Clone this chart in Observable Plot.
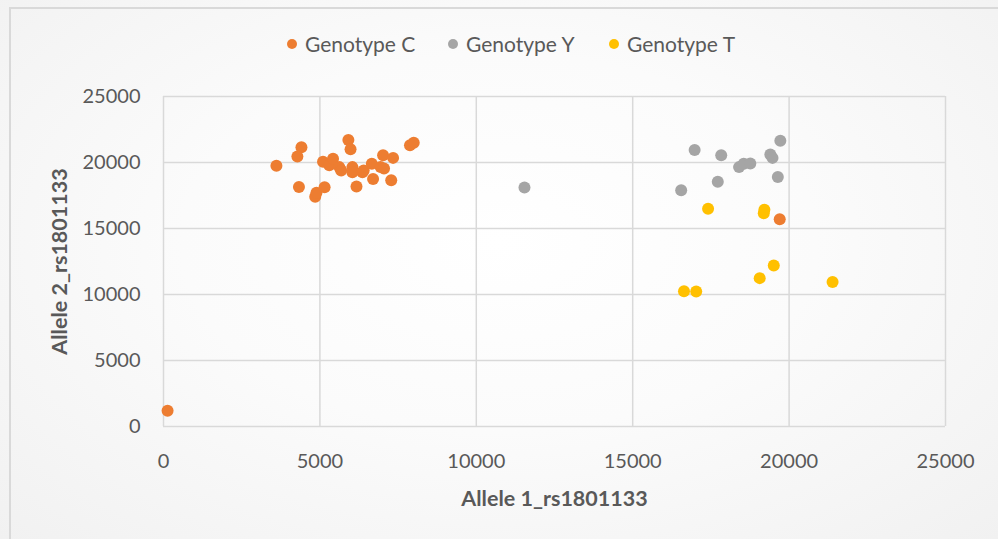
<!DOCTYPE html>
<html>
<head>
<meta charset="utf-8">
<script src="https://cdn.jsdelivr.net/npm/d3@7"></script>
<script src="https://cdn.jsdelivr.net/npm/@observablehq/plot@0.6"></script>
<style>
  html, body { margin: 0; padding: 0; background: #fff; }
  #chart {
    position: relative; width: 998px; height: 539px; overflow: hidden;
    background: radial-gradient(ellipse at 50% 45%, #ffffff 0%, #fbfbfb 45%, #f1f1f1 100%);
    font-family: Lato, "Open Sans", sans-serif;
  }
  #frame {
    position: absolute; left: 9px; top: 7px; width: 1000px; height: 560px;
    border: 2px solid #d9d9d9; box-sizing: border-box;
  }
  #legend { position: absolute; left: 0; top: 0; width: 998px; height: 90px; font-size: 21px; color: #595959; }
  .item { position: absolute; top: 31px; display: flex; align-items: center; gap: 8px; white-space: nowrap; }
  .sw { width: 10px; height: 10px; border-radius: 50%; display: inline-block; }
  #plot { position: absolute; left: 0; top: 0; }
</style>
</head>
<body>
<div id="chart">
  <div id="frame"></div>
  <div id="plot"></div>
  <div id="legend"></div>
</div>
<script>
const seriesNames = ["Genotype C", "Genotype Y", "Genotype T"];
const seriesColors = ["#ED7D31", "#A5A5A5", "#FFC000"];

const genotypeC_x = [130, 3610, 4410, 4280, 4330, 4850, 4890, 5150, 5100, 5300, 5420, 5620, 5680, 5910, 5980, 6040, 6040, 6170, 6360, 6400, 6660, 6700, 6940, 7020, 7050, 7340, 7280, 7880, 8000, 19700];
const genotypeC_y = [1200, 19750, 21150, 20450, 18150, 17400, 17700, 18130, 20050, 19800, 20280, 19650, 19400, 21700, 21000, 19650, 19270, 18180, 19270, 19400, 19900, 18750, 19650, 20550, 19550, 20350, 18650, 21300, 21500, 15700];

const genotypeY_x = [11540, 16550, 16980, 17720, 17830, 18400, 18550, 18760, 19400, 19470, 19640, 19720];
const genotypeY_y = [18100, 17900, 20950, 18550, 20550, 19650, 19900, 19920, 20600, 20350, 18900, 21650];

const genotypeT_x = [16640, 17030, 17410, 19060, 19190, 19210, 19510, 21390];
const genotypeT_y = [10250, 10230, 16490, 11240, 16150, 16420, 12200, 10940];

const xTicks = [0, 5000, 10000, 15000, 20000, 25000];
const yTicks = [0, 5000, 10000, 15000, 20000, 25000];
const xTitle = "Allele 1_rs1801133";
const yTitle = "Allele 2_rs1801133";

const points = [];
[[genotypeC_x, genotypeC_y], [genotypeY_x, genotypeY_y], [genotypeT_x, genotypeT_y]].forEach(([xs, ys], i) => {
  xs.forEach((x, j) => points.push({x, y: ys[j], series: seriesNames[i]}));
});

const chart = Plot.plot({
  width: 998,
  height: 539,
  marginLeft: 163,
  marginRight: 53,
  marginTop: 96,
  marginBottom: 113,
  style: {background: "transparent", fontFamily: "Lato, 'Open Sans', sans-serif", fontSize: "20px", color: "#595959"},
  x: {domain: [0, 25000]},
  y: {domain: [0, 25000]},
  color: {domain: seriesNames, range: seriesColors},
  marks: [
    Plot.gridX(xTicks, {stroke: "#d9d9d9", strokeOpacity: 1, strokeWidth: 1.5}),
    Plot.gridY(yTicks, {stroke: "#d9d9d9", strokeOpacity: 1, strokeWidth: 1.5}),
    Plot.axisX({ticks: xTicks, tickSize: 0, tickPadding: 27, tickFormat: d => String(d), label: null}),
    Plot.axisY({ticks: yTicks, tickSize: 0, tickPadding: 23, tickFormat: d => String(d), label: null}),
    Plot.text([xTitle], {frameAnchor: "bottom", dy: 73, text: d => d, fontWeight: "bold", fontSize: 21.5, fill: "#595959", lineAnchor: "middle"}),
    Plot.text([yTitle], {frameAnchor: "left", dx: -103, rotate: -90, textAnchor: "middle", lineAnchor: "middle", text: d => d, fontWeight: "bold", fontSize: 21.5, fill: "#595959"}),
    Plot.dot(points, {x: "x", y: "y", fill: "series", r: 6, stroke: "none"})
  ]
});
document.getElementById("plot").appendChild(chart);

const legendDotX = [292, 453, 614];
const legend = document.getElementById("legend");
seriesNames.forEach((name, i) => {
  const item = document.createElement("div");
  item.className = "item";
  item.style.left = (legendDotX[i] - 5) + "px";
  const sw = document.createElement("span");
  sw.className = "sw";
  sw.style.background = seriesColors[i];
  const label = document.createElement("span");
  label.textContent = name;
  item.appendChild(sw);
  item.appendChild(label);
  legend.appendChild(item);
});
</script>
</body>
</html>
